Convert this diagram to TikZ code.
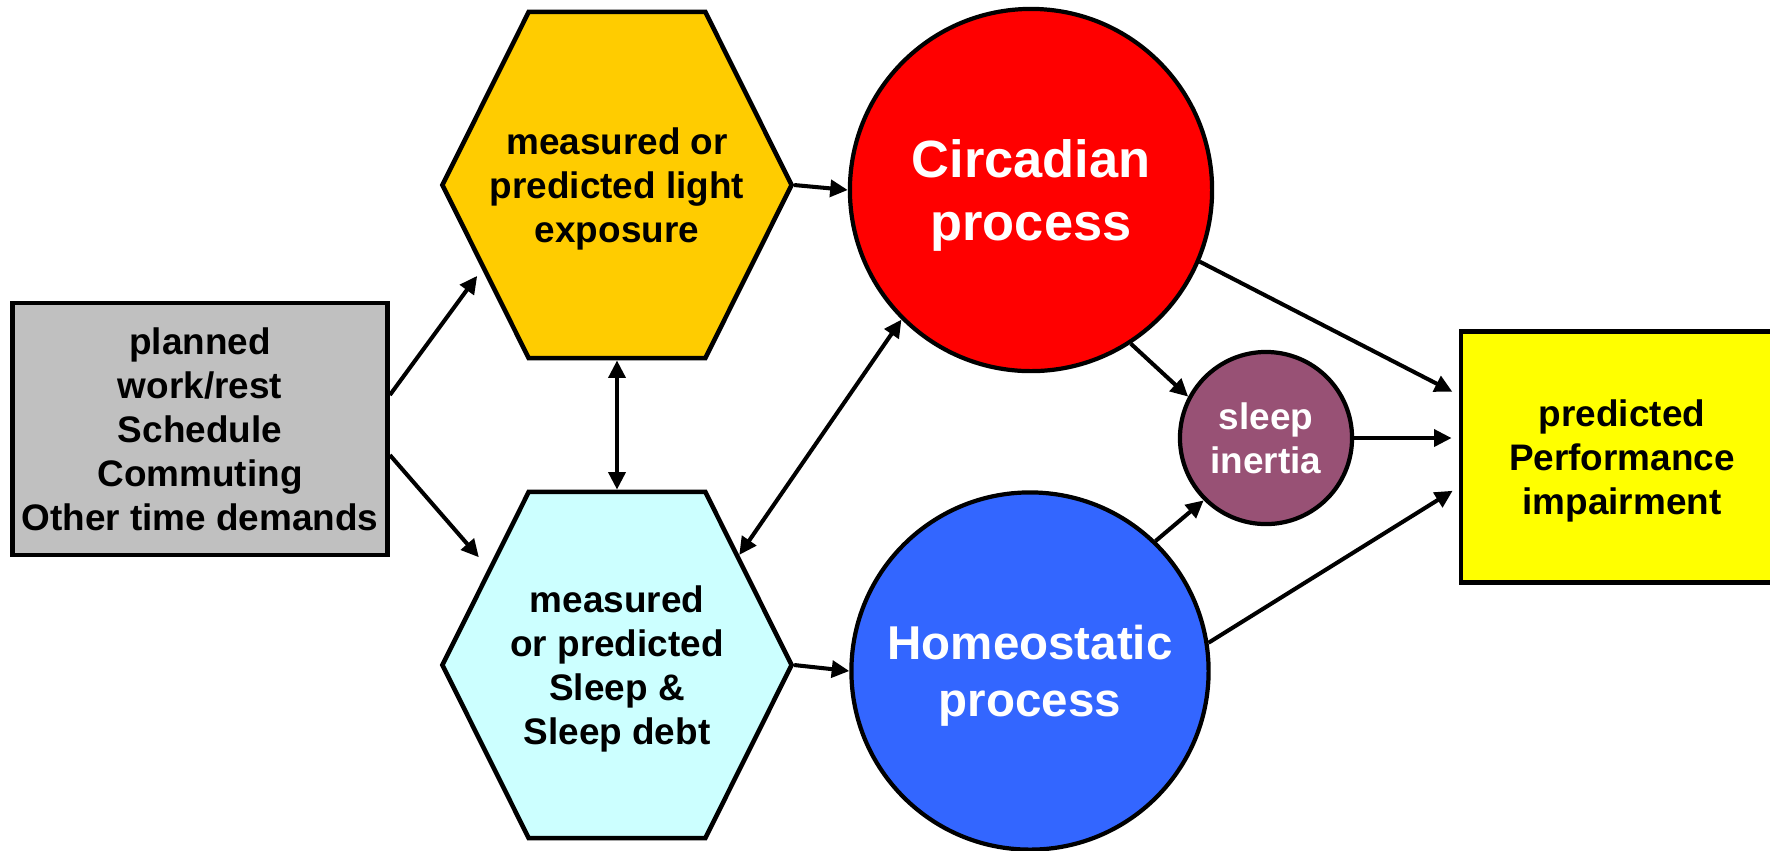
\documentclass[tikz,border=0pt]{standalone}
\usepackage{fontspec}
\setmainfont{Liberation Sans}
\usetikzlibrary{arrows.meta, shapes.symbols}

\definecolor{schedgray}{HTML}{C0C0C0}
\definecolor{lightgold}{HTML}{FFCC00}
\definecolor{sleepcyan}{HTML}{CCFFFF}
\definecolor{circred}{HTML}{FF0000}
\definecolor{homeoblue}{HTML}{3366FF}
\definecolor{inertiapurple}{HTML}{985175}
\definecolor{perfyellow}{HTML}{FFFF00}

\begin{document}
\begin{tikzpicture}[
    x=0.01cm, y=-0.01cm,
    every node/.style={font=\bfseries\fontsize{10.5}{12.5}\selectfont, align=center,
                       text depth=0pt},
    box/.style={draw, line width=1.3pt, inner sep=0pt},
    hex/.style={draw, line width=1.3pt, signal, signal to=east and west,
                signal pointer angle=127, minimum width=3.49cm,
                minimum height=3.46cm, inner sep=0pt},
    blob/.style={draw, circle, line width=1.2pt, inner sep=0pt, text=white},
    arr/.style={-{Triangle[length=5pt, width=4.8pt]}, line width=1.15pt},
    dbl/.style={{Triangle[length=5pt, width=4.8pt]}-{Triangle[length=5pt, width=4.8pt]},
                line width=1.15pt}
  ]
  \useasboundingbox (0,0) rectangle (1770,850);

  \node[box, fill=schedgray, minimum width=3.75cm, minimum height=2.52cm] (sched) at (200,429)
    {planned\\work/rest\\Schedule\\Commuting\\Other time demands};

  \node[hex, fill=lightgold, label={center:measured or\\predicted light\\exposure}] (light) at (617,185) {};
  \node[hex, fill=sleepcyan, label={center:measured\\or predicted\\Sleep \&\\Sleep debt}] (sleepd) at (617,665) {};

  \node[blob, fill=circred, minimum size=3.62cm,
        font=\bfseries\fontsize{14.9}{17.9}\selectfont] (circ) at (1031,190) {Circadian\\process};
  \node[blob, fill=homeoblue, minimum size=3.57cm,
        font=\bfseries\fontsize{13.5}{16.2}\selectfont] (homeo) at (1030,671) {Homeostatic\\process};
  \node[blob, fill=inertiapurple, minimum size=1.72cm] (inertia) at (1266,438) {sleep\\inertia};

  \node[box, fill=perfyellow, minimum width=3.22cm, minimum height=2.51cm] (perf) at (1622,457)
    {predicted\\Performance\\impairment};

  % inputs
  \draw[arr, shorten >=0.08cm] ([yshift=0.34cm]sched.east) -- (light.212);
  \draw[arr, shorten >=0.14cm] ([yshift=-0.26cm]sched.east) -- (sleepd.143);
  \draw[arr] (light.east) -- (circ.west);
  \draw[arr] (sleepd.east) -- (homeo.west);
  \draw[dbl] (light.south) -- (sleepd.north);
  \draw[dbl] (sleepd.42) -- (circ.225);

  % processes
  \draw[arr] (circ.303) -- (inertia.152);
  \draw[arr] (homeo.46) -- (inertia.225);
  \draw[arr, shorten >=2pt] (circ.-23) -- ([yshift=0.62cm]perf.west);
  \draw[arr, shorten >=2pt] (inertia.east) -- (inertia.east -| perf.west);
  \draw[arr, shorten >=2pt] (homeo.9) -- ([yshift=-0.30cm]perf.west);
\end{tikzpicture}
\end{document}
